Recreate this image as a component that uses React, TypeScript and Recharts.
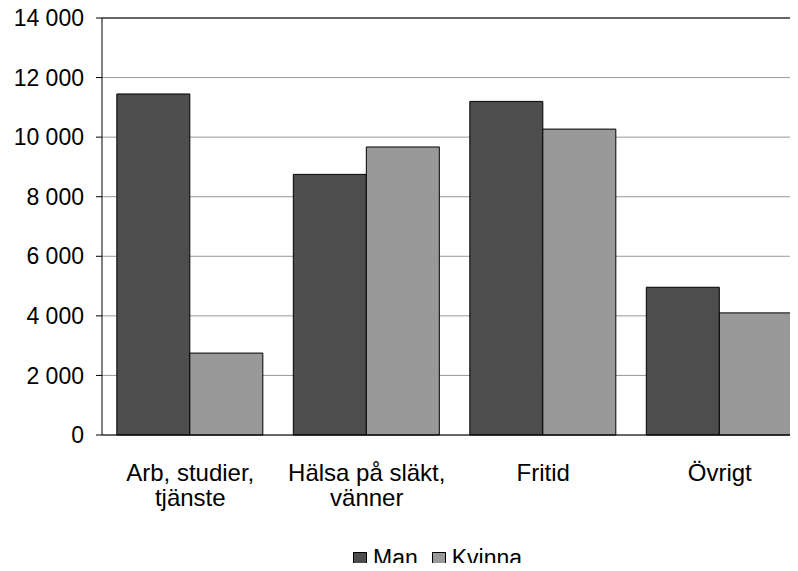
import React from "react";
import {
  BarChart,
  Bar,
  XAxis,
  YAxis,
  CartesianGrid,
  ReferenceLine,
} from "recharts";

const categories = ["Arb, studier, tjänste", "Hälsa på släkt, vänner", "Fritid", "Övrigt"];
const categoryLines = [["Arb, studier,", "tjänste"], ["Hälsa på släkt,", "vänner"], ["Fritid"], ["Övrigt"]];
const manValues = [11450, 8750, 11200, 4960];
const kvinnaValues = [2750, 9670, 10270, 4100];
const yTicks = [0, 2000, 4000, 6000, 8000, 10000, 12000, 14000];
const seriesNames = ["Man", "Kvinna"];
const seriesColors = ["#4d4d4d", "#999999"];
const titleText = "Långväga resor";

const data = categories.map((c, i) => ({
  name: c,
  Man: manValues[i],
  Kvinna: kvinnaValues[i],
}));

const FONT = "Arial, 'Liberation Sans', sans-serif";

const fmt = (v: number) => {
  const s = String(v);
  if (s.length <= 3) return s;
  return s.slice(0, s.length - 3) + " " + s.slice(s.length - 3);
};

const XTick = (props: any) => {
  const { x, y, payload } = props;
  const i = categories.indexOf(payload.value);
  const lines = i >= 0 ? categoryLines[i] : [payload.value];
  return (
    <text x={x} y={y} textAnchor="middle" fill="#000" fontSize={24} fontFamily={FONT}>
      {lines.map((l: string, k: number) => (
        <tspan key={k} x={x} y={y + 46 + k * 25}>
          {l}
        </tspan>
      ))}
    </text>
  );
};

const LegendBox = () => (
  <div
    style={{
      position: "absolute",
      left: 0,
      top: 547,
      width: 798,
      display: "flex",
      alignItems: "center",
      paddingLeft: 353,
      boxSizing: "border-box",
      height: 23,
      fontFamily: FONT,
      fontSize: 23,
      lineHeight: "23px",
      color: "#000",
    }}
  >
    {seriesNames.map((n, i) => (
      <div key={n} style={{ display: "flex", alignItems: "center", marginRight: 14 }}>
        <div
          style={{
            width: 12,
            height: 12,
            background: seriesColors[i],
            border: "1px solid #000",
            marginRight: 6,
          }}
        />
        <span>{n}</span>
      </div>
    ))}
  </div>
);

export default function App() {
  return (
    <div style={{ position: "relative", width: 782, height: 555 }}>
      <div
        style={{
          position: "absolute",
          left: -8,
          top: -8,
          width: 798,
          height: 571,
          overflow: "hidden",
          background: "#fff",
        }}
      >
        <BarChart
          width={830}
          height={571}
          data={data}
          margin={{ top: 18, right: 22, left: 0, bottom: 0 }}
          barCategoryGap="8.4%"
          barGap={0}
        >
          <CartesianGrid vertical={false} stroke="#999" strokeWidth={1} />
          <XAxis
            dataKey="name"
            height={136}
            tickLine={false}
            tickSize={0}
            tickMargin={0}
            axisLine={{ stroke: "#000", strokeWidth: 1 }}
            tick={<XTick />}
            interval={0}
          />
          <YAxis
            width={102}
            domain={[0, 14000]}
            ticks={yTicks}
            tickFormatter={fmt}
            tickSize={6}
            tickMargin={12}
            tickLine={{ stroke: "#000" }}
            axisLine={{ stroke: "#000", strokeWidth: 1 }}
            tick={{ fill: "#000", fontSize: 23, fontFamily: FONT }}
            interval={0}
          />
          <ReferenceLine y={14000} stroke="#000" strokeWidth={1} />
          <Bar dataKey="Man" name={seriesNames[0]} fill={seriesColors[0]} stroke="#000" strokeWidth={1} isAnimationActive={false} />
          <Bar dataKey="Kvinna" name={seriesNames[1]} fill={seriesColors[1]} stroke="#000" strokeWidth={1} isAnimationActive={false} />
        </BarChart>
        <LegendBox />
        <svg
          width={798}
          height={20}
          style={{ position: "absolute", left: 0, top: 0, overflow: "visible", pointerEvents: "none" }}
        >
          <text x={6} y={-1} fontSize={24} fontFamily={FONT} fill="#000">
            {titleText}
          </text>
        </svg>
      </div>
    </div>
  );
}
